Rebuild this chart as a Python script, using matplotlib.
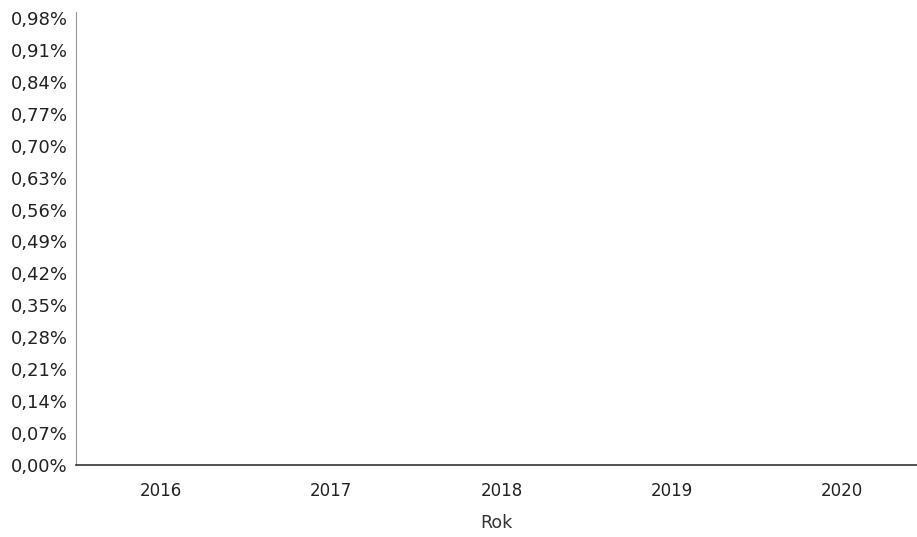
import matplotlib
matplotlib.use("Agg")
import matplotlib.pyplot as plt
from matplotlib.ticker import FixedLocator, FuncFormatter

# Data (the plotted series are not visible in the scan)
years = ["2016", "2017", "2018", "2019", "2020"]
y_ticks = [0.00, 0.07, 0.14, 0.21, 0.28, 0.35, 0.42, 0.49, 0.56, 0.63, 0.70, 0.77, 0.84, 0.91, 0.98]
x_label = "Rok"

fig = plt.figure(figsize=(9.17, 5.37), dpi=100)
ax = fig.add_axes([76 / 917, (537 - 465) / 537, (917 - 76) / 917, (465 - 12) / 537])

x = list(range(len(years)))
ax.set_xlim(-0.5, 4.44)
ax.set_ylim(0, 0.98 * (465 - 12) / (465 - 18))

ax.set_xticks(x)
ax.set_xticklabels(years, fontsize=12, family=["Liberation Sans Narrow", "DejaVu Sans"], color="#222222")
ax.yaxis.set_major_locator(FixedLocator(y_ticks))
ax.yaxis.set_major_formatter(FuncFormatter(lambda v, p: f"{v:.2f}".replace(".", ",") + "%"))
for lbl in ax.get_yticklabels():
    lbl.set_fontsize(13)
    lbl.set_color("#222222")

ax.tick_params(axis="both", length=0)
ax.tick_params(axis="y", pad=6)
ax.tick_params(axis="x", pad=12)

ax.set_xlabel(x_label, fontsize=12.5, family=["Liberation Sans Narrow", "DejaVu Sans"], color="#333333", labelpad=10)

for s in ["top", "right"]:
    ax.spines[s].set_visible(False)
ax.spines["left"].set_color("#999999")
ax.spines["left"].set_linewidth(0.8)
ax.spines["bottom"].set_color("#333333")
ax.spines["bottom"].set_linewidth(1.2)

fig.savefig("out.png", dpi=100)
